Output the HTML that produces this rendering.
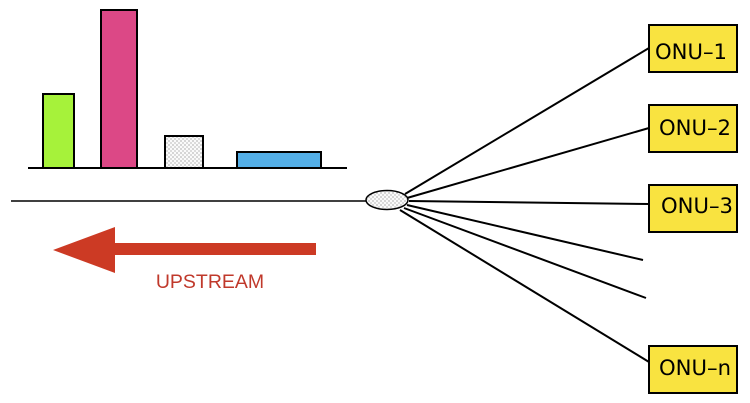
<!DOCTYPE html>
<html><head><style>body{margin:0;background:#fff}svg{display:block}</style></head>
<body>
<svg width="750" height="403" viewBox="0 0 750 403" xmlns="http://www.w3.org/2000/svg">
<defs>
<pattern id="dots" width="4" height="4" patternUnits="userSpaceOnUse">
<rect width="4" height="4" fill="#fafafa"/><circle cx="1" cy="1" r="0.5" fill="#333"/><circle cx="3" cy="3" r="0.5" fill="#555"/>
</pattern>
</defs>
<g stroke="#000" stroke-width="2">
<rect x="43" y="94" width="31" height="74" fill="#a6f23a"/>
<rect x="101" y="10" width="36" height="158" fill="#dc4886"/>
<rect x="165" y="136" width="38" height="32" fill="url(#dots)"/>
<rect x="237" y="152" width="84" height="16" fill="#53aee6"/>
<line x1="28" y1="168" x2="347" y2="168"/>
</g>
<line x1="11" y1="201" x2="368" y2="201" stroke="#000" stroke-width="1.5"/>
<polygon points="53,250 115,227 115,243 316,243 316,255 115,255 115,273" fill="#cc3a24"/>
<text x="210" y="288" text-anchor="middle" font-family="Liberation Sans, sans-serif" font-size="19.5" fill="#c0392b">UPSTREAM</text>
<g stroke="#000" stroke-width="2">
<line x1="405" y1="194" x2="649" y2="48"/>
<line x1="407" y1="198" x2="649" y2="128"/>
<line x1="409" y1="201" x2="649" y2="204"/>
<line x1="407" y1="205" x2="643" y2="260"/>
<line x1="404" y1="208" x2="646" y2="298"/>
<line x1="400" y1="210" x2="649" y2="362"/>
</g>
<ellipse cx="387" cy="200" rx="21" ry="9.5" fill="url(#dots)" stroke="#000" stroke-width="1.5"/>
<g stroke="#000" stroke-width="2" fill="#f9e340">
<rect x="649" y="25" width="88" height="47"/>
<rect x="649" y="105" width="88" height="47"/>
<rect x="649" y="185" width="88" height="47"/>
<rect x="649" y="346" width="88" height="47"/>
</g>
<g font-family="DejaVu Sans, sans-serif" font-size="21" fill="#000">
<text x="655" y="59" textLength="72" lengthAdjust="spacingAndGlyphs">ONU–1</text>
<text x="659" y="135" textLength="72" lengthAdjust="spacingAndGlyphs">ONU–2</text>
<text x="661" y="213" textLength="72" lengthAdjust="spacingAndGlyphs">ONU–3</text>
<text x="659" y="375" textLength="72" lengthAdjust="spacingAndGlyphs">ONU–n</text>
</g>
</svg>
</body></html>
